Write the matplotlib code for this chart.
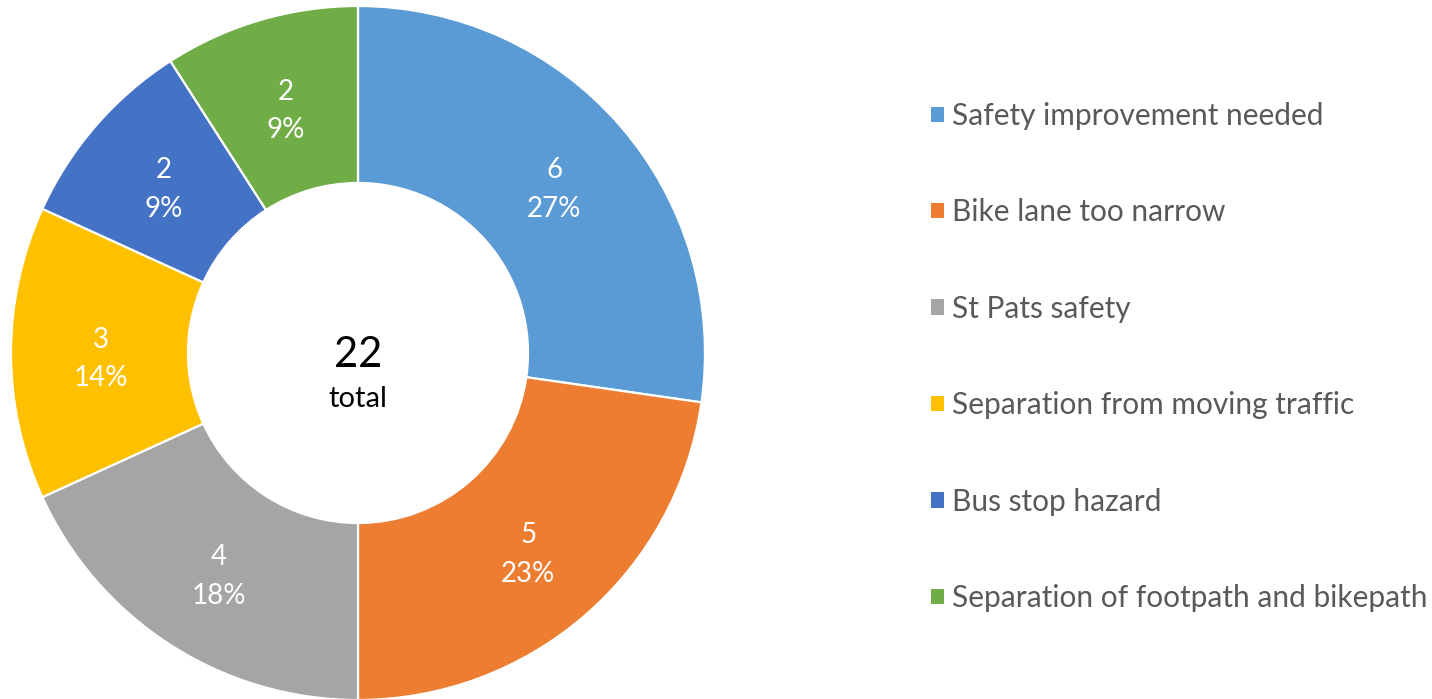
import matplotlib.pyplot as plt
import matplotlib.transforms as mtransforms
from matplotlib.patches import Patch

categories = ['Safety improvement needed', 'Bike lane too narrow', 'St Pats safety',
              'Separation from moving traffic', 'Bus stop hazard',
              'Separation of footpath and bikepath']
counts = [6, 5, 4, 3, 2, 2]
colors = ['#5B9BD5', '#ED7D31', '#A5A5A5', '#FFC000', '#4472C4', '#70AD47']

plt.rcParams['font.family'] = ['Lato', 'DejaVu Sans']

W, H = 1432, 699
fig = plt.figure(figsize=(W / 100, H / 100), dpi=100)

# donut centre ~ (358, 353) px, outer radius ~347 px
cx, cy, r = 358, 353, 347
ax = fig.add_axes([(cx - r) / W, (H - cy - r) / H, 2 * r / W, 2 * r / H])

total = sum(counts)

def fmt(pct):
    n = int(round(pct * total / 100))
    return f'{n}\n{pct:.0f}%'

wedges, texts, autotexts = ax.pie(
    counts, colors=colors, startangle=90, counterclock=False, radius=1,
    wedgeprops=dict(width=0.51, edgecolor='white', linewidth=1.6),
    autopct=fmt, pctdistance=0.745,
    textprops=dict(color='white', fontsize=20, linespacing=1.6))

# excel puts the labels a touch lower than the ring midpoint
for t in autotexts:
    t.set_transform(mtransforms.offset_copy(ax.transData, fig=fig, x=1, y=-6, units='dots'))

ax.set_xlim(-1, 1)
ax.set_ylim(-1, 1)
ax.set_aspect('equal')
ax.axis('off')

ax.text(0, -0.04, str(total), ha='center', va='baseline', fontsize=30, color='black')
ax.text(0, -0.156, 'total', ha='center', va='baseline', fontsize=21, color='black')

handles = [Patch(facecolor=c, edgecolor='none') for c in colors]
leg = fig.legend(handles, categories, loc='upper left',
                 bbox_to_anchor=(931 / W, 1 - 102 / H), frameon=False,
                 fontsize=21.5, labelcolor='#595959', handlelength=0.42,
                 handleheight=0.42, handletextpad=0.3, labelspacing=2.29,
                 borderaxespad=0, borderpad=0)

fig.savefig('out.png', dpi=100)
